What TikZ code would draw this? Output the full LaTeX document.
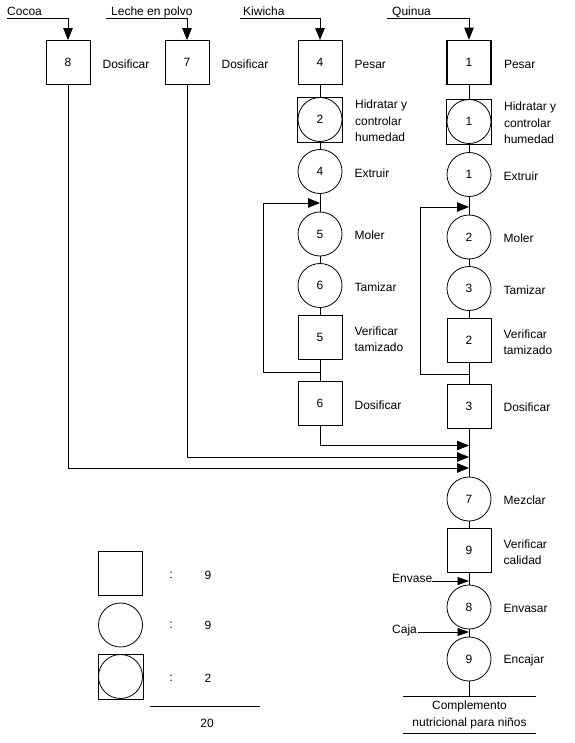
\documentclass[tikz,border=0pt]{standalone}
\usepackage{fontspec}
\setmainfont{Liberation Sans}
\usetikzlibrary{arrows.meta}
\begin{document}
\begin{tikzpicture}[x=1pt,y=-1pt,
  every node/.style={font=\fontsize{12}{16.5}\selectfont},
  box/.style={draw, line width=0.8pt, minimum width=44pt, minimum height=44pt, inner sep=0pt},
  circ/.style={draw, circle, line width=0.8pt, minimum size=44pt, inner sep=0pt},
  lbl/.style={anchor=west, align=left, inner sep=0pt, yshift=-1.5pt},
  ln/.style={line width=0.8pt},
  arr/.style={line width=0.8pt, -{Triangle[length=12pt,width=9.5pt]}},
  arrs/.style={line width=0.8pt, -{Triangle[length=11.5pt,width=8pt]}}
]
\useasboundingbox (0,0) rectangle (574,743);

% ---------- inputs ----------
\coordinate (cocoaIn) at (7,18);
\coordinate (lecheIn) at (106,18);
\coordinate (kiwIn) at (240,18);
\coordinate (quiIn) at (387,18);
\node (tcocoa) [anchor=base west, inner sep=0pt] at (7,16) {Cocoa};
\node (tleche) [anchor=base west, inner sep=0pt] at (111,16) {Leche en polvo};
\node (tkiw) [anchor=base west, inner sep=0pt] at (243,16) {Kiwicha};
\node (tqui) [anchor=base west, inner sep=0pt] at (392,16) {Quinua};

% ---------- Cocoa / Leche ----------
\node (b8) [box] at (68,62.5) {8};
\node (b8l) [lbl] at ([xshift=12pt]b8.east) {Dosificar};
\node (b7) [box] at (187,62.5) {7};
\node (b7l) [lbl] at ([xshift=12pt]b7.east) {Dosificar};

% ---------- Kiwicha ----------
\node (k4) [box] at (320,62.5) {4};
\node (k4l) [lbl] at ([xshift=12pt]k4.east) {Pesar};
\node (k2) [box, minimum width=45pt, minimum height=45pt] at (320,119.5) {};
\node (k2c) [circ] at (k2.center) {2};
\node (k2l) [lbl] at ([xshift=12pt]k2.east) {Hidratar y\\controlar\\humedad};
\node (k4e) [circ] at (320,171.5) {4};
\node (k4el) [lbl] at ([xshift=12pt]k4e.east) {Extruir};
\node (k5) [circ] at (320,234) {5};
\node (k5l) [lbl] at ([xshift=12pt]k5.east) {Moler};
\node (k6) [circ] at (320,285.5) {6};
\node (k6l) [lbl] at ([xshift=12pt]k6.east) {Tamizar};
\node (k5v) [box] at (320,337.5) {5};
\node (k5vl) [lbl] at ([xshift=12pt]k5v.east) {Verificar\\tamizado};
\node (k6d) [box] at (320,403.5) {6};
\node (k6dl) [lbl] at ([xshift=12pt]k6d.east) {Dosificar};

% ---------- Quinua ----------
\node (q1) [box, line width=1.6pt] at (469,62.5) {1};
\node (q1l) [lbl] at ([xshift=12pt]q1.east) {Pesar};
\node (q1h) [box, minimum width=45pt, minimum height=45pt] at (469,121.5) {};
\node (q1hc) [circ] at (q1h.center) {1};
\node (q1hl) [lbl] at ([xshift=12pt]q1h.east) {Hidratar y\\controlar\\humedad};
\node (q1e) [circ] at (469,174.5) {1};
\node (q1el) [lbl] at ([xshift=12pt]q1e.east) {Extruir};
\node (q2) [circ] at (469,237) {2};
\node (q2l) [lbl] at ([xshift=12pt]q2.east) {Moler};
\node (q3) [circ] at (469,288.5) {3};
\node (q3l) [lbl] at ([xshift=12pt]q3.east) {Tamizar};
\node (q2v) [box] at (469,340.5) {2};
\node (q2vl) [lbl] at ([xshift=12pt]q2v.east) {Verificar\\tamizado};
\node (q3d) [box] at (469,406) {3};
\node (q3dl) [lbl] at ([xshift=12pt]q3d.east) {Dosificar};

% ---------- main line ----------
\node (m7) [circ] at (469,499) {7};
\node (m7l) [lbl] at ([xshift=12pt]m7.east) {Mezclar};
\node (v9) [box] at (469,550.5) {9};
\node (v9l) [lbl] at ([xshift=12pt]v9.east) {Verificar\\calidad};
\node (e8) [circ] at (469,607) {8};
\node (e8l) [lbl] at ([xshift=12pt]e8.east) {Envasar};
\node (e9) [circ] at (469,659) {9};
\node (e9l) [lbl] at ([xshift=12pt]e9.east) {Encajar};

% ---------- input arrows ----------
\draw[arr] (cocoaIn) -| (b8.north);
\draw[arr] (lecheIn) -| (b7.north);
\draw[arr] (kiwIn) -| (k4.north);
\draw[arr] (quiIn) -| (q1.north);

% ---------- column lines ----------
\draw[ln] (k4.south) -- (k2.north) (k2.south) -- (k4e.north) (k4e.south) -- (k5.north)
  (k5.south) -- (k6.north) (k6.south) -- (k5v.north) (k5v.south) -- (k6d.north);
\draw[ln] (q1.south) -- (q1h.north) (q1h.south) -- (q1e.north) (q1e.south) -- (q2.north)
  (q2.south) -- (q3.north) (q3.south) -- (q2v.north) (q2v.south) -- (q3d.north)
  (q3d.south) -- (m7.north) (m7.south) -- (v9.north) (v9.south) -- (e8.north)
  (e8.south) -- (e9.north);

% ---------- recycle loops ----------
\coordinate (kLB) at (320,372);
\coordinate (kLT) at (320,203);
\draw[arr] (kLB) -- ++(-57,0) |- (kLT);
\coordinate (qLB) at (469,374);
\coordinate (qLT) at (469,207);
\draw[arr] (qLB) -- ++(-49,0) |- (qLT);

% ---------- merge arrows ----------
\coordinate (mA) at (469,445.5);
\coordinate (mB) at (469,457);
\coordinate (mC) at (469,468);
\draw[arr] (k6d.south) |- (mA);
\draw[arr] (b7.south) |- (mB);
\draw[arr] (b8.south) |- (mC);

% ---------- Envase / Caja ----------
\node (tenv) [anchor=base west, inner sep=0pt] at (392,582) {Envase};
\coordinate (envIn) at (469,581);
\draw[arrs] (tenv.base east |- envIn) -- (envIn);
\node (tcaja) [anchor=base west, inner sep=0pt] at (392,633) {Caja};
\coordinate (cajaIn) at (469,632);
\draw[arrs] ([xshift=1pt]tcaja.base east |- cajaIn) -- (cajaIn);

% ---------- product ----------
\coordinate (outEnd) at (469,696);
\draw[ln] (e9.south) -- (outEnd);
\coordinate (pL) at (403,696);
\coordinate (pR) at (536,696);
\draw[ln] (pL) -- (pR);
\node (prod) [align=center, inner sep=0pt] at (469.5,715) {Complemento\\nutricional para niños};
\coordinate (pL2) at (403,733);
\coordinate (pR2) at (536,733);
\draw[ln] (pL2) -- (pR2);

% ---------- legend ----------
\node (lsq) [box] at (120.5,573) {};
\node (lci) [circ] at (120.5,625) {};
\node (lsc) [box, minimum width=45pt, minimum height=45pt] at (120.5,676.5) {};
\node (lscc) [circ] at (lsc.center) {};
\node (c1) at (171,575) {:};
\node (n1) at (208,575) {9};
\node (c2) at (171,625) {:};
\node (n2) at (208,625) {9};
\node (c3) at (171,678) {:};
\node (n3) at (208,678) {2};
\coordinate (sL) at (150,706);
\coordinate (sR) at (260,706);
\draw[ln] (sL) -- (sR);
\node (tot) at (207,723) {20};
\end{tikzpicture}
\end{document}
